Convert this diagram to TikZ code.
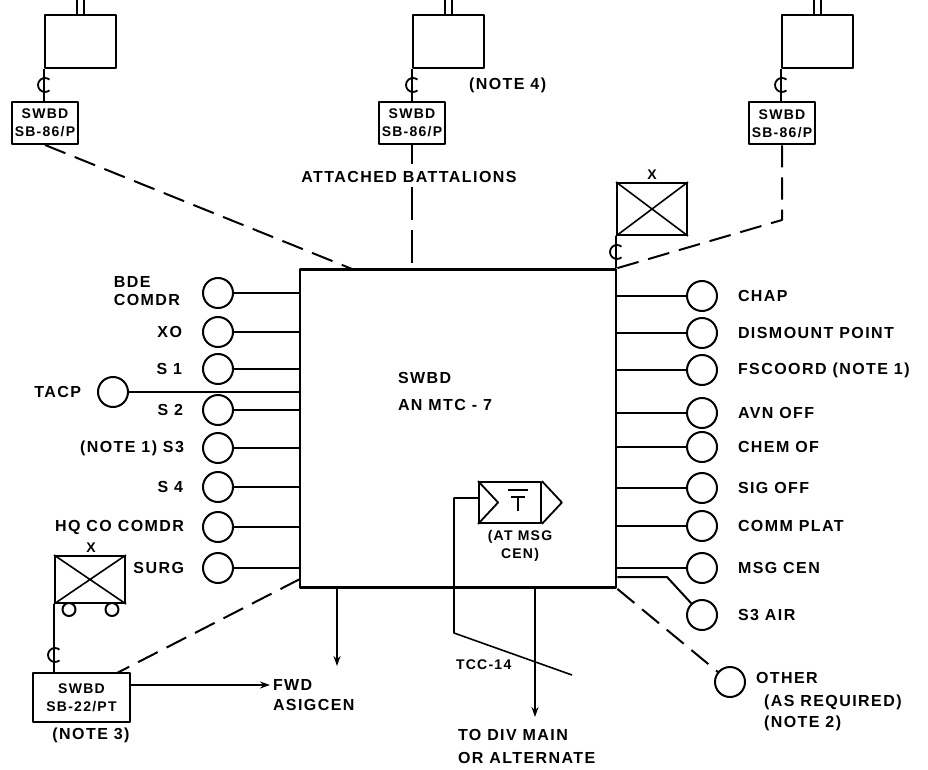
\documentclass[tikz,border=0pt]{standalone}
\usepackage{fontspec}
\setmainfont{Liberation Sans}
\newfontfamily\lblfont[LetterSpace=9]{Liberation Sans}
\usetikzlibrary{arrows.meta,calc}
\newcommand\csym[2]{\draw[line width=1.8pt] ($(#1,#2)+(50:7)$) arc[start angle=50,end angle=310,radius=7];}
\begin{document}
\begin{tikzpicture}[x=1pt,y=-1pt, line width=2pt, line join=round,
  lab/.style={font=\lblfont\bfseries\fontsize{16}{20}\selectfont, inner sep=0pt},
  slab/.style={font=\lblfont\bfseries\fontsize{14}{18}\selectfont, inner sep=0pt, align=center},
  circ/.style={circle, draw, line width=2pt, minimum size=30pt, inner sep=0pt},
  bn/.style={draw, line width=2pt, minimum width=71pt, minimum height=53pt, inner sep=0pt},
  swbox/.style={draw, line width=2pt, minimum width=66pt, minimum height=42pt, inner sep=0pt, align=center,
     font=\lblfont\bfseries\fontsize{14}{18}\selectfont},
  dashline/.style={dash pattern=on 22pt off 10pt},
  arr/.style={-{Stealth[length=10pt,width=7pt]}}
]
\fill[white] (0,0) rectangle (928,770);
\useasboundingbox (0,0) rectangle (928,770);

% main switchboard
\node[draw, line width=2.8pt, minimum width=316pt, minimum height=318pt, inner sep=0pt] (main) at (458,428.5) {};
\node[lab, anchor=west, align=left] (mt) at (397,391) {SWBD\\[7pt]AN MTC - 7};

% battalions
\node[bn] (bn1) at (80.5,41.5) {};
\node[bn] (bn2) at (448,41.5) {};
\node[bn] (bn3) at (817,41.5) {};
\foreach \b in {bn1,bn2,bn3}{
  \draw ($(\b.north)+(-3.5,0)$) -- ++(0,-14);
  \draw ($(\b.north)+(3.5,0)$) -- ++(0,-14);
}
\node[swbox] (sw1) at (45,123) {SWBD\\SB-86/P};
\node[swbox] (sw2) at (412,123) {SWBD\\SB-86/P};
\node[swbox] (sw3) at (782,123.5) {SWBD\\SB-86/P};
\draw (bn1.south west) -- (bn1.south west |- sw1.north);
\draw (bn2.south west) -- (bn2.south west |- sw2.north);
\draw (bn3.south west) -- (bn3.south west |- sw3.north);
\csym{45}{85}
\csym{413}{85}
\csym{782}{85}
\node[lab, anchor=west] (n4) at (468,85) {(NOTE 4)};

% links from battalions
\coordinate (m1) at (352,269);
\draw[dashline] (sw1.south) -- (m1);
\node[lab] (att) at (409,177) {ATTACHED BATTALIONS};
\draw (sw2.south) -- ++(0,19);
\coordinate (ab) at (412,187);
\draw[dash pattern=on 33pt off 10pt] (ab) -- (ab |- main.north);
\coordinate (k3) at (782,220);
\draw[dashline] (sw3.south) -- (k3) -- (main.north east);

% brigade HQ symbol top right
\node[draw, minimum width=70pt, minimum height=52pt, inner sep=0pt] (xb) at (652,209) {};
\draw[line width=1.6pt] (xb.north west) -- (xb.south east) (xb.north east) -- (xb.south west);
\node[slab] (xbl) at (652,175) {X};
\draw (xb.south west) -- (xb.south west |- main.north);
\csym{617}{252}

% left stations
\node[circ] (bde) at (218,293) {};
\node[circ] (xo) at (218,332) {};
\node[circ] (s1) at (218,369) {};
\node[circ] (s2) at (218,410) {};
\node[circ] (s3) at (218,448) {};
\node[circ] (s4) at (218,487) {};
\node[circ] (hq) at (218,527) {};
\node[circ] (surg) at (218,568) {};
\foreach \c in {bde,xo,s1,s2,s3,s4,hq,surg}{ \draw (\c) -- (\c -| main.west); }
\node[lab, anchor=east, align=left] (lbde) at (181,291) {BDE\\[-2pt]COMDR};
\node[lab, anchor=east] (lxo) at (183,332) {XO};
\node[lab, anchor=east] (ls1) at (183,369) {S 1};
\node[lab, anchor=east] (ls2) at (184,410) {S 2};
\node[lab, anchor=east] (ls3) at (185,448) {(NOTE 1) S3};
\node[lab, anchor=east] (ls4) at (184,487) {S 4};
\node[lab, anchor=east] (lhq) at (185,527) {HQ CO COMDR};
\node[lab, anchor=east] (lsurg) at (185,568) {SURG};
\node[circ] (tacp) at (113,392) {};
\draw (tacp) -- (tacp -| main.west);
\node[lab, anchor=east] (ltacp) at (82,392) {TACP};

% right stations
\node[circ] (chap) at (702,296) {};
\node[circ] (dis) at (702,333) {};
\node[circ] (fsc) at (702,370) {};
\node[circ] (avn) at (702,413) {};
\node[circ] (chem) at (702,447) {};
\node[circ] (sig) at (702,488) {};
\node[circ] (comm) at (702,526) {};
\node[circ] (msgc) at (702,568) {};
\foreach \c in {chap,dis,fsc,avn,chem,sig,comm,msgc}{ \draw (\c) -- (\c -| main.east); }
\node[circ] (s3air) at (702,615) {};
\coordinate (sa) at (667,577);
\draw (main.east |- sa) -- (sa) -- (s3air);
\node[lab, anchor=west] at (737,296) {CHAP};
\node[lab, anchor=west] at (737,333) {DISMOUNT POINT};
\node[lab, anchor=west] at (737,370) {FSCOORD (NOTE 1)};
\node[lab, anchor=west] at (737,413) {AVN OFF};
\node[lab, anchor=west] at (737,447) {CHEM OF};
\node[lab, anchor=west] at (737,488) {SIG OFF};
\node[lab, anchor=west] at (737,526) {COMM PLAT};
\node[lab, anchor=west] at (737,568) {MSG CEN};
\node[lab, anchor=west] at (737,615) {S3 AIR};
\node[circ] (other) at (730,682) {};
\draw[dashline] (main.south east) -- (other);
\node[lab, anchor=west] (lother) at (755,678) {OTHER};
\node[lab, anchor=west, align=left] (lreq) at (763,713) {(AS REQUIRED)\\[1pt](NOTE 2)};

% message center symbol
\node[draw, line width=1.8pt, minimum width=62pt, minimum height=41pt, inner sep=0pt] (msg) at (510,502.5) {};
\draw[line width=1.8pt] (msg.north west) -- ($(msg.west)+(20,0)$) -- (msg.south west);
\draw[line width=1.8pt] (msg.north east) -- ($(msg.east)+(20,0)$) -- (msg.south east);
\draw[line width=2pt] (508,490) -- (528,490) (511,497) -- (525,497) (518,497) -- (518,511);
\node[slab] (lmsg) at (520,546) {(AT MSG\\CEN)};
\coordinate (t1) at (454,498);
\coordinate (t2) at (454,633);
\coordinate (t3) at (572,675);
\draw[line width=1.6pt] (msg.west |- t1) -- (t1) -- (t2) -- (t3);
\node[slab, anchor=west] (ltcc) at (455,665) {TCC-14};

% downward arrows
\coordinate (a1) at (337,666);
\draw[arr] (a1 |- main.south) -- (a1);
\coordinate (a2) at (535,717);
\draw[arr] (a2 |- main.south) -- (a2);
\node[lab, anchor=west, align=left] (ldiv) at (457,746.5) {TO DIV MAIN\\[3pt]OR ALTERNATE};

% vehicle and SB-22
\node[draw, minimum width=70pt, minimum height=47pt, inner sep=0pt] (veh) at (90,579.5) {};
\draw[line width=1.6pt] (veh.north west) -- (veh.south east) (veh.north east) -- (veh.south west);
\node[slab] (vehx) at (91,548) {X};
\node[circle, draw, minimum size=13pt, inner sep=0pt] (w1) at (69,609.5) {};
\node[circle, draw, minimum size=13pt, inner sep=0pt] (w2) at (112,609.5) {};
\node[swbox, minimum width=97pt, minimum height=49pt] (sw4) at (81.5,697.5) {SWBD\\SB-22/PT};
\draw (veh.south west) -- (veh.south west |- sw4.north);
\csym{55}{655}
\node[lab] (n3) at (91,735) {(NOTE 3)};
\coordinate (m2) at (300,579);
\coordinate (s4t) at (117,673);
\draw[dashline] (m2) -- (s4t);
\node[lab, anchor=north west, align=left] (fwd) at (272,678) {FWD\\ASIGCEN};
\coordinate (fe) at (270,685);
\draw[arr] (sw4.east |- fe) -- (fe);
\end{tikzpicture}
\end{document}
